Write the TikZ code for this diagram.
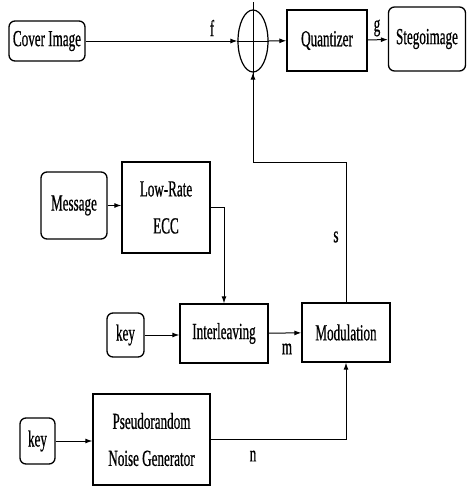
\documentclass[tikz,border=0pt]{standalone}
\usepackage{fontspec}
\setmainfont{Liberation Serif}[FakeStretch=0.57, FakeBold=0.6]
\usepackage{tikz}
\usetikzlibrary{arrows.meta, positioning, calc, shapes.geometric}

\begin{document}
\begin{tikzpicture}[x=1pt, y=-1pt,
    font=\fontsize{23}{37}\selectfont,
    blk/.style={draw, line width=1.3pt, inner sep=0pt, align=center},
    src/.style={blk, rounded corners=6pt},
    flow/.style={line width=1pt, -{Latex[length=7pt, width=5pt]}},
    lbl/.style={inner sep=0pt}]
  \useasboundingbox (0,0) rectangle (467,488);
  % top row
  \node[src, minimum width=76pt, minimum height=40pt] (cover) at (47,41) {Cover Image};
  \node[draw, ellipse, line width=1.2pt, minimum width=30pt, minimum height=62pt, inner sep=0pt] (sum) at (253,41) {};
  \draw[line width=1pt] ([yshift=7pt]sum.north) -- ([yshift=-7pt]sum.south);
  \draw[line width=1pt] (sum.west) -- (sum.east);
  \node[blk, minimum width=80pt, minimum height=61pt] (quant) at (327,40.5) {Quantizer};
  \node[src, minimum width=77pt, minimum height=64pt] (stego) at (427,39) {Stegoimage};
  % message branch
  \node[src, minimum width=66pt, minimum height=67pt] (msg) at (74,205.5) {Message};
  \node[blk, minimum width=88pt, minimum height=91pt] (ecc) at (166,207.5) {Low-Rate\\ECC};
  \node[src, minimum width=37pt, minimum height=44pt] (key1) at (125.5,335) {key};
  \node[blk, minimum width=88pt, minimum height=59pt] (inter) at (224,333.5) {Interleaving};
  \node[blk, minimum width=88pt, minimum height=59pt] (mod) at (346,332.5) {Modulation};
  % noise branch
  \node[src, minimum width=35pt, minimum height=46pt] (key2) at (37.5,441) {key};
  \node[blk, minimum width=117pt, minimum height=91pt] (prng) at (151.5,439.5) {Pseudorandom\\Noise Generator};
  \coordinate (bend) at (253,162);
  % connectors
  \draw[flow] (cover) -- (sum);
  \draw[flow] (sum) -- (quant);
  \draw[flow] (quant) -- (stego);
  \draw[flow] (msg) -- (msg -| ecc.west);
  \draw[flow] (ecc.east) -| (inter.north);
  \draw[flow] (key1) -- (key1 -| inter.west);
  \draw[flow] (inter) -- (mod);
  \draw[flow] (mod.north) |- (bend) -- (sum.south);
  \draw[flow] (prng.east) -| (mod.south);
  \draw[flow] (key2) -- (key2 -| prng.west);
  % labels
  \node[lbl] (f) at (212,28) {f};
  \node[lbl] (g) at (377,28) {g};
  \node[lbl] (s) at (336,237) {s};
  \node[lbl] (m) at (287,349) {m};
  \node[lbl] (n) at (253,456) {n};
\end{tikzpicture}
\end{document}
